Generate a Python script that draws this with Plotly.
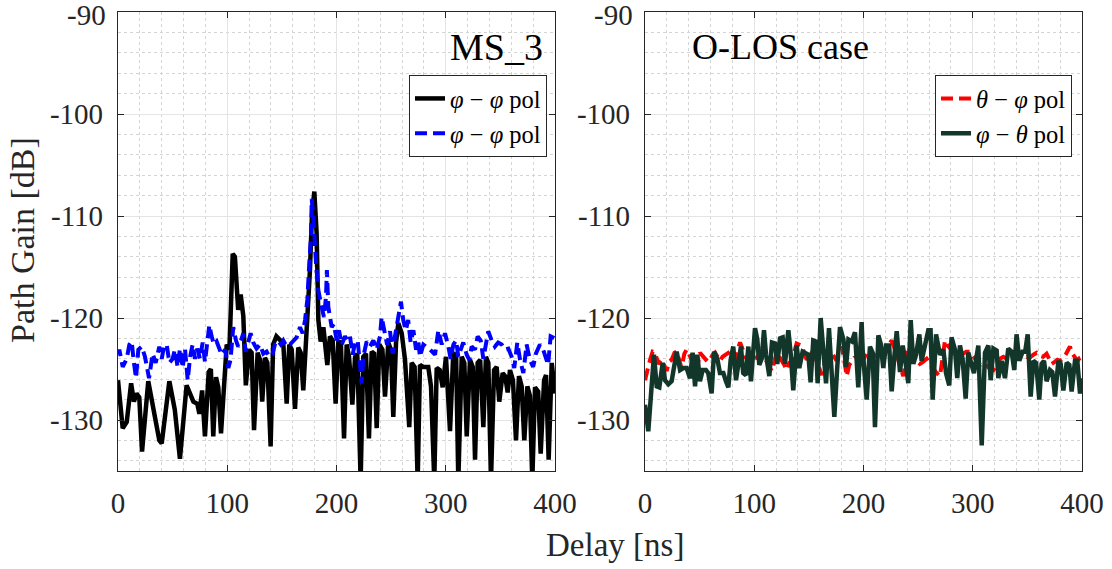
import plotly.graph_objects as go

# ---------------- data (delay in ns, path gain in dB) ----------------
tau_black = [0, 4.3, 8, 12, 14.6, 17, 19.5, 22, 27.7, 32.3, 37.8, 40, 47, 52, 56.7, 62.8, 66, 69, 72.6, 74.5,
             77, 79.6, 83, 85, 87.2, 89.7, 91.8, 94.3, 99.5, 102, 105, 107, 110, 112.3, 114.7, 117, 120, 122.3,
             124.5, 127.8, 130, 132, 134.5, 136.7, 139.7, 142, 145, 148.3, 151.3, 154.4, 156.8, 159, 162, 165,
             167.2, 169.6, 172.7, 175.7, 177.5, 179.7, 181.8, 183.4, 185.5, 188, 191.6, 194, 196.5, 199.2, 201.7,
             204, 206.9, 209.3, 211.5, 214.5, 217, 219, 222.1, 224.5, 227, 229.7, 232.2, 234.5, 236.8, 239.2, 242,
             244.4, 247.4, 249.8, 252, 254.5, 256.6, 259.7, 262.7, 266.6, 268.8, 271.5, 274.3, 276.4, 279.4, 284,
             286.5, 289.5, 291.7, 294.5, 297.2, 300.2, 303.9, 306.9, 309.5, 311.5, 314.6, 317, 319.2, 322.2, 324.7,
             326.8, 329.2, 331.5, 334.4, 336.8, 339, 341.4, 344.2, 346.6, 349, 352.1, 354.4, 356.7, 358.8, 361.5,
             364.3, 367, 369.5, 371.9, 374.7, 377, 379.2, 381.7, 384.6, 386.9, 390, 391.8, 394.2, 397, 400]
gain_black = [-126.1, -130.8, -130.2, -126.4, -128.2, -127.4, -127.8, -133.1, -126.2, -128.7, -132.0, -132.3, -126.2,
              -129.0, -133.8, -126.6, -127.6, -128.2, -128.4, -129.4, -127.1, -131.6, -125.3, -125.0, -131.6, -125.8,
              -126.8, -131.3, -122.6, -123.1, -113.7, -114.0, -119.2, -117.7, -119.8, -126.6, -123.1, -123.4, -131.0,
              -123.4, -124.1, -128.2, -123.9, -124.4, -132.6, -122.6, -121.8, -122.1, -122.5, -128.4, -122.6, -123.1,
              -128.9, -122.9, -123.4, -127.1, -121.2, -115.3, -110.0, -107.6, -111.7, -120.2, -122.3, -120.9, -124.6,
              -121.8, -122.2, -128.4, -122.3, -122.4, -131.8, -122.6, -123.8, -128.5, -123.8, -123.5, -136.0, -123.8,
              -123.5, -131.8, -123.3, -123.5, -130.8, -122.6, -123.1, -127.7, -122.4, -123.1, -129.7, -122.4, -120.5,
              -121.5, -124.1, -130.7, -124.4, -124.8, -136.0, -124.6, -124.8, -124.8, -126.7, -136.0, -124.9, -125.1,
              -126.8, -123.8, -131.1, -123.4, -123.8, -136.0, -123.8, -124.4, -131.6, -124.1, -124.8, -133.9, -124.4,
              -124.1, -130.7, -123.8, -124.4, -136.0, -125.1, -124.8, -128.2, -125.4, -125.7, -127.3, -125.1, -126.1,
              -132.0, -125.7, -126.7, -132.0, -126.7, -127.6, -136.0, -126.8, -127.2, -133.3, -126.1, -125.6, -133.9,
              -124.4, -127.4]

tau_blue = [0, 1.2, 4.3, 8, 10.4, 12.5, 14.6, 16.5, 18.6, 21.7, 24.7, 28.4, 31.7, 34.5, 37.8, 40, 42.1, 44.6, 47,
            50, 52, 54.6, 56.7, 59.2, 61.3, 63.8, 66, 68.3, 70.5, 72.6, 75, 77.5, 79.6, 81.7, 83.6, 85.7, 87.8, 90.3,
            92.7, 94.9, 98, 101, 103, 105.5, 108, 110, 112.6, 114.7, 117, 119.2, 121.4, 123.8, 126.8, 130, 133, 136,
            138.5, 141.3, 143.6, 146.2, 149, 151.3, 154.4, 157.4, 160.5, 163.5, 166.6, 169, 171.2, 173.3, 175.1,
            176.7, 177.3, 178.8, 181.2, 183.4, 186.4, 188.5, 190.4, 191.2, 192.5, 195.6, 197.5, 200.2, 202.3, 204.7,
            207.8, 210, 212.3, 214.8, 217, 219.4, 221.5, 223, 224.5, 227.6, 230.6, 233.7, 236.8, 239.8, 241.3,
            243.5, 246.3, 249, 251.4, 253.5, 256.6, 259, 261.1, 263.5, 265.6, 267.9, 270.4, 272.8, 274.9, 276.4,
            279.5, 282.5, 285.6, 290.2, 293.2, 296.3, 299.3, 302.4, 304.5, 307, 309.5, 311.5, 313.6, 316, 319.2,
            321.6, 323.7, 326.8, 329.2, 332, 334.4, 336.8, 338.9, 342, 345, 348, 351.2, 354.2, 357.3, 360.3, 362.7,
            365.5, 368, 371, 374, 377, 380, 382.5, 386.2, 389.2, 391.6, 393.7, 396, 398.5, 400]
gain_blue = [-123.6, -123.1, -124.8, -124.0, -122.6, -122.3, -124.4, -125.9, -123.1, -122.8, -123.8, -125.9, -123.5,
             -124.4, -122.8, -124.0, -122.8, -122.6, -124.4, -124.0, -123.1, -124.8, -123.0, -124.9, -123.0, -126.1,
             -123.8, -122.6, -124.0, -123.0, -124.0, -122.4, -124.3, -122.2, -120.7, -121.8, -122.6, -122.3, -123.1,
             -123.6, -123.1, -124.9, -124.1, -120.9, -122.2, -122.8, -122.2, -121.5, -123.3, -122.4, -121.5, -122.4,
             -123.0, -122.6, -123.5, -123.3, -123.8, -123.6, -122.6, -122.2, -122.6, -122.2, -122.8, -122.6, -122.3,
             -121.9, -120.9, -121.5, -120.2, -118.2, -114.6, -112.0, -108.3, -110.1, -114.6, -117.3, -118.9, -119.9,
             -117.9, -115.3, -118.9, -120.9, -120.6, -122.2, -121.2, -122.6, -121.8, -122.2, -121.8, -123.6, -122.4,
             -122.2, -124.6, -126.4, -123.8, -122.3, -122.8, -122.2, -123.1, -121.8, -119.9, -121.2, -122.6, -121.3,
             -123.5, -121.8, -119.5, -118.4, -120.2, -121.2, -120.2, -122.4, -121.2, -123.1, -122.3, -123.8, -122.6,
             -122.8, -123.1, -123.6, -121.2, -122.6, -121.5, -122.8, -124.0, -122.6, -122.2, -123.8, -123.1, -122.4,
             -123.6, -124.1, -122.8, -123.1, -121.8, -122.2, -124.0, -122.8, -121.3, -122.2, -122.8, -122.4, -122.6,
             -123.1, -123.0, -123.8, -124.9, -122.4, -124.1, -125.4, -122.6, -124.1, -124.8, -123.5, -122.6, -123.1,
             -123.8, -124.6, -121.8, -121.9, -122.0]

tau_red = [0, 2.5, 4.6, 7, 9.2, 12.2, 15.3, 17.5, 19.8, 22, 24.4, 27, 29, 31.5, 33.5, 36, 38.1, 40.5, 42.7, 45,
           47.3, 50.3, 52.5, 54.9, 57.5, 59.5, 62, 64.1, 66.5, 68.6, 71, 73.2, 75.5, 77.8, 80, 82.4, 84.5, 87, 89.5,
           91.5, 94, 96.1, 99, 102.2, 104.5, 106.8, 109, 111.4, 113.5, 116, 118.5, 120.5, 123, 125.1, 127.5, 129.7,
           132, 134.3, 136.5, 138.8, 141, 143.4, 146, 148, 150.5, 152.6, 155, 157.1, 159.5, 161.7, 164, 166.3, 168.5,
           170.9, 173, 175.4, 177.5, 180, 182.5, 184.6, 187, 189.2, 191.5, 193.8, 196, 198.3, 200.5, 202.9, 205.5,
           208, 211, 214, 217, 220, 223, 225.8, 228.5, 231, 233.5, 236.4, 238.5, 241, 243.5, 246, 249, 251.6, 254.5,
           257.8, 261, 264, 267, 270, 272.3, 274.6, 277, 280, 282.2, 285, 288.3, 291, 294, 297.5, 300.5, 303.5, 306.7,
           310, 313, 316, 318.9, 322, 325, 328, 331, 334, 337, 340.1, 343, 346, 349.3, 352, 355.5, 358.5, 361.5,
           364.5, 367.6, 370, 372.2, 375, 377.5, 379.9, 382.5, 385, 387, 389, 391.2, 393.6, 396, 398, 400]
gain_red = [-126.1, -124.8, -124.1, -123.3, -123.4, -124.5, -124.1, -124.6, -125.2, -124.3, -124.1, -123.4, -123.3,
            -124.2, -124.9, -123.5, -123.1, -123.6, -124.1, -124.6, -125.2, -123.4, -123.7, -123.9, -124.3, -124.1,
            -123.6, -123.4, -123.9, -124.2, -123.8, -123.6, -123.4, -123.3, -123.9, -124.1, -123.2, -122.4, -123.1,
            -123.8, -124.1, -124.5, -124.0, -123.9, -123.5, -123.4, -123.8, -124.2, -124.7, -125.2, -124.1, -123.4,
            -123.8, -124.1, -124.6, -125.1, -124.4, -124.2, -123.3, -122.5, -122.6, -122.7, -123.5, -124.1, -123.6,
            -123.4, -123.8, -124.2, -124.9, -125.6, -124.6, -124.1, -123.6, -123.4, -123.8, -124.2, -123.5, -122.8,
            -124.2, -125.7, -124.6, -124.2, -123.9, -123.8, -124.3, -124.9, -124.0, -123.4, -123.6, -124.1, -123.5,
            -123.0, -123.4, -123.2, -122.6, -122.2, -123.0, -123.8, -124.8, -125.7, -124.3, -122.8, -123.4, -123.9,
            -124.2, -124.5, -124.3, -124.0, -124.5, -125.0, -125.4, -125.7, -124.0, -122.2, -122.7, -123.1, -123.3,
            -123.6, -123.8, -123.5, -123.3, -123.3, -123.8, -124.2, -124.6, -124.4, -124.7, -125.0, -125.1, -124.6,
            -124.0, -123.8, -124.0, -123.7, -123.6, -123.4, -123.6, -123.9, -123.8, -123.9, -123.6, -123.4, -123.7,
            -123.8, -123.5, -124.0, -124.5, -124.3, -124.1, -124.2, -124.0, -123.6, -123.1, -122.8, -123.5, -123.8,
            -124.2, -123.9, -123.8]

tau_green = [0, 3, 8.2, 10.7, 13.1, 16.2, 18.3, 21.4, 24.4, 29, 32.1, 35.1, 38.1, 41.2, 43.6, 45.8, 47.9, 50.3, 52.8,
             55.8, 57.9, 61, 63.2, 66.2, 68.6, 71.7, 74.1, 76.3, 78.4, 80.8, 83.3, 85.4, 87.8, 89.9, 92.4, 94.6, 97,
             100.7, 102.8, 104.6, 106.8, 108.9, 110.8, 113.8, 116.2, 119, 121.1, 123.6, 126, 128.1, 131.2, 133.3,
             135.7, 138.8, 141.2, 144.3, 146.4, 149.5, 151.6, 154, 156.5, 158, 160.8, 163.2, 165.7, 168.4, 170.9,
             173.3, 176, 178.5, 181.6, 184, 186.2, 189.3, 192.2, 195.2, 198.3, 199.2, 202.9, 205.9, 208.4, 210.5,
             213.6, 215.7, 218.1, 220.5, 223.5, 225.8, 228.2, 230.4, 233.4, 235.9, 238, 241, 243.2, 245.6, 248.1,
             251.1, 253.2, 256.3, 259.3, 261.4, 263.3, 266.4, 270, 273.1, 275.5, 278.5, 280.6, 283.7, 285.8, 288.3,
             290.7, 293.5, 295.9, 299, 301.1, 305.1, 308.2, 311.2, 314.3, 316.4, 318.9, 321.9, 323.4, 326.5, 329.5,
             332.5, 335.6, 338, 340.1, 342.6, 345.6, 348, 350.3, 353, 355.5, 358, 360.9, 363, 365.2, 367.6, 370.7,
             372.8, 375.3, 378.4, 380.5, 382.9, 386, 388.4, 390.5, 393.6, 395.7, 398.2, 400]
gain_green = [-128.5, -131.1, -123.6, -126.7, -126.8, -124.4, -126.1, -126.5, -126.2, -123.3, -125.1, -124.9, -124.9,
              -125.9, -123.4, -126.7, -123.6, -126.2, -125.1, -125.1, -125.4, -127.4, -123.3, -124.0, -125.4, -125.4,
              -126.2, -126.8, -124.1, -122.8, -126.1, -124.4, -122.8, -125.4, -125.6, -122.8, -126.2, -121.0, -122.1,
              -124.6, -124.0, -121.2, -123.6, -125.7, -122.4, -122.5, -124.5, -122.0, -121.9, -124.5, -121.2, -123.4,
              -127.1, -122.7, -124.9, -123.3, -123.4, -123.6, -126.3, -122.2, -122.3, -126.4, -120.0, -122.8, -126.4,
              -121.0, -125.1, -129.7, -124.8, -120.9, -122.1, -124.8, -122.1, -122.3, -121.4, -126.8, -120.4, -123.1,
              -128.0, -122.8, -123.4, -130.7, -121.7, -122.5, -124.9, -122.7, -122.7, -127.2, -123.8, -121.3, -125.3,
              -122.7, -124.0, -126.4, -120.2, -124.5, -123.6, -121.6, -124.2, -122.7, -121.2, -121.2, -128.0, -121.6,
              -123.6, -123.1, -125.4, -126.6, -121.9, -123.1, -125.9, -122.7, -124.0, -127.9, -123.4, -124.6, -125.4,
              -122.7, -132.5, -123.4, -122.7, -126.1, -123.0, -123.2, -125.9, -124.2, -125.9, -123.0, -123.3, -125.1,
              -121.6, -124.2, -123.3, -123.3, -121.6, -127.7, -124.2, -124.4, -128.0, -124.5, -124.2, -126.2, -125.1,
              -125.3, -127.7, -124.2, -124.5, -127.1, -124.4, -124.6, -127.2, -124.2, -124.2, -127.4, -125.9]

x_ticks = [0, 100, 200, 300, 400]
y_ticks = [-90, -100, -110, -120, -130]
legend_left = ["<i>φ</i> − <i>φ</i> pol", "<i>φ</i> − <i>φ</i> pol"]
legend_right = ["<i>θ</i> − <i>φ</i> pol", "<i>φ</i> − <i>θ</i> pol"]

# ---------------- figure ----------------
SERIF = "Liberation Serif, Times New Roman, serif"
AX = "#262626"
W, H = 1112, 569

fig = go.Figure()
fig.add_trace(go.Scatter(x=tau_black, y=gain_black, mode="lines", name=legend_left[0],
                         line=dict(color="#000000", width=4.5), xaxis="x", yaxis="y", legend="legend"))
fig.add_trace(go.Scatter(x=tau_blue, y=gain_blue, mode="lines", name=legend_left[1],
                         line=dict(color="#0000ff", width=4, dash="12px,6px"), xaxis="x", yaxis="y",
                         legend="legend"))
fig.add_trace(go.Scatter(x=tau_red, y=gain_red, mode="lines", name=legend_right[0],
                         line=dict(color="#ff0000", width=4, dash="12px,6px"), xaxis="x2", yaxis="y2",
                         legend="legend2"))
fig.add_trace(go.Scatter(x=tau_green, y=gain_green, mode="lines", name=legend_right[1],
                         line=dict(color="#12372a", width=4.5), xaxis="x2", yaxis="y2", legend="legend2"))

TICKFONT = dict(family=SERIF, size=29, color=AX)
# the top tick label (-90) is drawn as an annotation so it stays inside the page
y_ticktext = ["" if v == y_ticks[0] else str(v) for v in y_ticks]


def xax(domain, anchor):
    return dict(domain=domain, anchor=anchor, range=[0, 400], automargin=False,
                tickvals=x_ticks, ticktext=[str(v) for v in x_ticks],
                showline=True, mirror="ticks", linecolor=AX, linewidth=1.2,
                ticks="inside", ticklen=6, tickcolor=AX, tickwidth=1,
                showgrid=True, gridcolor="#e4e4e4", gridwidth=1, zeroline=False,
                minor=dict(dtick=20, tick0=0, showgrid=True, gridcolor="#d4d4d4", griddash="dot",
                           gridwidth=1, ticks=""),
                tickfont=TICKFONT, ticklabelstandoff=6, ticklabeloverflow="allow")


def yax(domain, anchor):
    return dict(domain=domain, anchor=anchor, range=[-135, -90], automargin=False,
                tickvals=y_ticks, ticktext=y_ticktext,
                showline=True, mirror="ticks", linecolor=AX, linewidth=1.2,
                ticks="inside", ticklen=6, tickcolor=AX, tickwidth=1,
                showgrid=True, gridcolor="#e4e4e4", gridwidth=1, zeroline=False,
                minor=dict(dtick=2, tick0=-90, showgrid=True, gridcolor="#d4d4d4", griddash="dot",
                           gridwidth=1, ticks=""),
                tickfont=TICKFONT, ticklabelstandoff=8, ticklabeloverflow="allow")


ydom = [1 - 471 / H, 1 - 12 / H]
LEGFONT = dict(family=SERIF, size=24.5, color="#000000")
fig.update_layout(
    template="none",
    width=W, height=H, margin=dict(l=0, r=0, t=0, b=0, autoexpand=False),
    paper_bgcolor="white", plot_bgcolor="white",
    xaxis=xax([118 / W, 555 / W], "y"),
    yaxis=yax(ydom, "x"),
    xaxis2=xax([645 / W, 1082 / W], "y2"),
    yaxis2=yax(ydom, "x2"),
    legend=dict(x=547 / W, y=1 - 75 / H, xanchor="right", yanchor="top",
                bgcolor="white", bordercolor=AX, borderwidth=1, font=LEGFONT, tracegroupgap=0),
    legend2=dict(x=1072 / W, y=1 - 75 / H, xanchor="right", yanchor="top",
                 bgcolor="white", bordercolor=AX, borderwidth=1, font=LEGFONT, tracegroupgap=0),
    showlegend=True,
    annotations=[
        dict(text=str(y_ticks[0]), x=107 / W, y=1 - 15 / H, xref="paper", yref="paper", xanchor="right",
             yanchor="middle", showarrow=False, borderpad=0, font=TICKFONT),
        dict(text=str(y_ticks[0]), x=634 / W, y=1 - 15 / H, xref="paper", yref="paper", xanchor="right",
             yanchor="middle", showarrow=False, borderpad=0, font=TICKFONT),
        dict(text="MS_3", x=545 / W, y=1 - 47 / H, xref="paper", yref="paper", xanchor="right",
             yanchor="middle", showarrow=False, font=dict(family=SERIF, size=38, color="#000000")),
        dict(text="O-LOS case", x=690 / W, y=1 - 47 / H, xref="paper", yref="paper", xanchor="left",
             yanchor="middle", showarrow=False, font=dict(family=SERIF, size=36, color="#000000")),
        dict(text="Path Gain [dB]", x=22 / W, y=1 - 240 / H, xref="paper", yref="paper", xanchor="center",
             yanchor="middle", textangle=-90, showarrow=False, font=dict(family=SERIF, size=34, color=AX)),
        dict(text="Delay [ns]", x=615 / W, y=1 - 545 / H, xref="paper", yref="paper", xanchor="center",
             yanchor="middle", showarrow=False, font=dict(family=SERIF, size=33, color=AX)),
    ],
)

fig.write_html("out.html", config={"displayModeBar": False},
               post_script="document.body.style.margin='0';document.body.style.overflow='hidden';")
